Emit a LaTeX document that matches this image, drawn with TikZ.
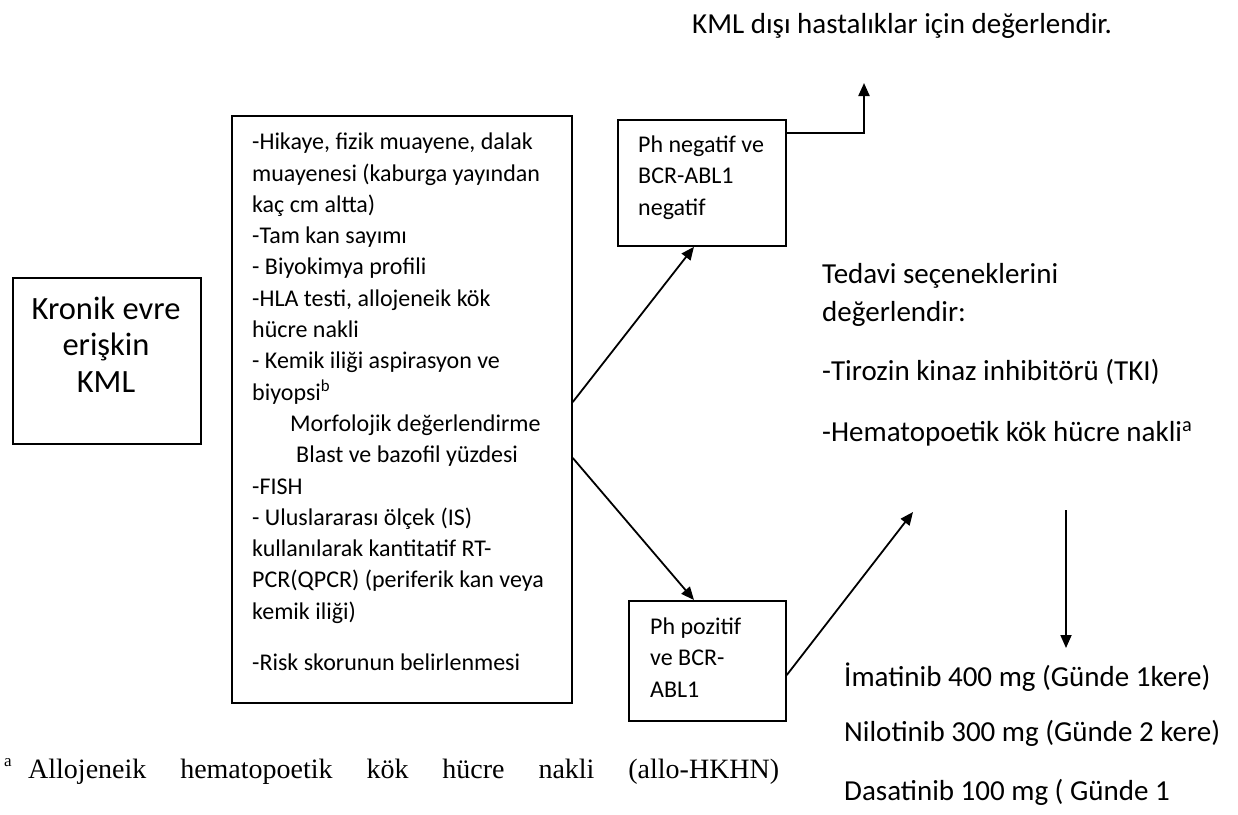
\documentclass[tikz,border=0pt]{standalone}
\usepackage{fontspec}
\setmainfont{Carlito}
\newfontfamily\timesfont{Liberation Serif}
\usetikzlibrary{arrows.meta}
\begin{document}
\begin{tikzpicture}[x=1pt,y=-1pt,
  box/.style={draw=black, line width=1.8pt, inner sep=0pt, anchor=north west},
  mt/.style={anchor=base west, inner sep=0pt, font=\fontsize{24}{29}\selectfont},
  bigt/.style={anchor=base, inner sep=0pt, font=\fontsize{32.5}{38}\selectfont},
  rt/.style={anchor=base west, inner sep=0pt, font=\fontsize{29}{35}\selectfont},
  arr/.style={line width=1.8pt, -{Triangle[length=13pt,width=11pt]}},
  fnt/.style={anchor=base west, inner sep=0pt, font=\timesfont\fontsize{28}{34}\selectfont}]
\useasboundingbox[fill=white] (0,0) rectangle (1238,814);

% boxes
\node[box, minimum width=188pt, minimum height=166pt] (kml) at (12,277) {};
\node[box, minimum width=340pt, minimum height=587pt] (main) at (231,115) {};
\node[box, minimum width=168pt, minimum height=126pt] (phneg) at (617,119) {};
\node[box, minimum width=157pt, minimum height=120pt] (phpos) at (628,600) {};

% left box text
\node[bigt] (k1) at (106,319) {Kronik evre};
\node[bigt] (k2) at (106,355.5) {erişkin};
\node[bigt] (k3) at (106,392) {KML};

% main box text
\foreach \xx/\yy/\txt [count=\i] in {
252/149.7/{-Hikaye, fizik muayene, dalak},
252/181/{muayenesi (kaburga yayından},
252/212.3/{kaç cm altta)},
252/243.6/{-Tam kan sayımı},
252/274.9/{- Biyokimya profili},
252/306.2/{-HLA testi, allojeneik kök},
252/337.5/{hücre nakli},
252/368.8/{- Kemik iliği aspirasyon ve},
252/400.1/{biyopsi\textsuperscript{b}},
290/431.4/{Morfolojik değerlendirme},
296/462.7/{Blast ve bazofil yüzdesi},
252/494/{-FISH},
252/525.3/{- Uluslararası ölçek (IS)},
252/556.6/{kullanılarak kantitatif RT-},
252/587.9/{PCR(QPCR) (periferik kan veya},
252/619.2/{kemik iliği)},
252/670/{-Risk skorunun belirlenmesi}}
  \node[mt] (m\i) at (\xx,\yy) {\txt};

% Ph negative text
\node[mt] (n1) at (638,152) {Ph negatif ve};
\node[mt] (n2) at (638,183.5) {BCR-ABL1};
\node[mt] (n3) at (638,215) {negatif};

% Ph positive text
\node[mt] (p1) at (650,634) {Ph pozitif};
\node[mt] (p2) at (650,665) {ve BCR-};
\node[mt] (p3) at (650,697) {ABL1};

% top text
\node[rt] (top) at (692,33) {KML dışı hastalıklar için değerlendir.};

% treatment options
\node[rt] (t1) at (822,283) {Tedavi seçeneklerini};
\node[rt] (t2) at (822,321) {değerlendir:};
\node[rt] (t3) at (822,380) {-Tirozin kinaz inhibitörü (TKI)};
\node[rt] (t4) at (822,441) {-Hematopoetik kök hücre nakli\textsuperscript{a}};

% drugs
\node[rt] (d1) at (844,686) {İmatinib 400 mg (Günde 1kere)};
\node[rt] (d2) at (844,741) {Nilotinib 300 mg (Günde 2 kere)};
\node[rt] (d3) at (844,800) {Dasatinib 100 mg ( Günde 1};

% footnote
\node[anchor=base west, inner sep=0pt, font=\timesfont\fontsize{17}{20}\selectfont] (fna) at (4,766) {a};
\node[fnt] (fn) at (28,778) {\makebox[751pt][s]{Allojeneik hematopoetik kök hücre nakli (allo-HKHN)}};

% free ends
\coordinate (upend) at (864,83);
\coordinate (tkiend) at (913,512);
\coordinate (dstart) at (1066,510);
\coordinate (dend) at (1066,648);

% connectors
\draw[arr] (main.east |- 0,402) -- (phneg.south -| 694,0);
\draw[arr] (main.east |- 0,458) -- (phpos.north -| 694,0);
\draw[arr] (phpos.east |- 0,675) -- (tkiend);
\draw[arr, line width=2.2pt] (phneg.east |- 0,133) -| (upend);
\draw[arr] (dstart) -- (dend);
\end{tikzpicture}
\end{document}
